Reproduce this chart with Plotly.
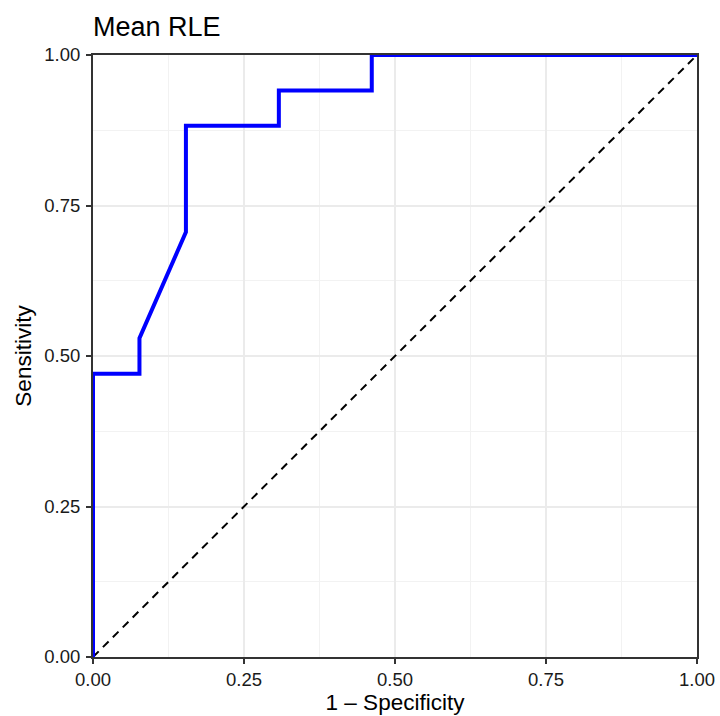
import plotly.graph_objects as go

fpr = [0.0, 0.0, 1/13, 1/13, 2/13, 2/13, 4/13, 4/13, 6/13, 6/13, 1.0]
tpr = [0.0, 8/17, 8/17, 9/17, 12/17, 15/17, 15/17, 16/17, 16/17, 1.0, 1.0]
diag = [0.0, 1.0]
tickvals = [0, 0.25, 0.5, 0.75, 1.0]
ticktext = ["0.00", "0.25", "0.50", "0.75", "1.00"]

FONT = "Liberation Sans, Arial, Helvetica"

fig = go.Figure()
fig.add_trace(go.Scatter(x=diag, y=diag, mode="lines",
                         line=dict(color="black", width=2, dash="8px,6px"),
                         showlegend=False, hoverinfo="skip"))
fig.add_trace(go.Scatter(x=fpr, y=tpr, mode="lines",
                         line=dict(color="#0000FF", width=4),
                         showlegend=False))

axis_common = dict(
    range=[0, 1], tickvals=tickvals, ticktext=ticktext,
    showgrid=True, gridcolor="#EBEBEB", gridwidth=2,
    minor=dict(tickvals=[0.125, 0.375, 0.625, 0.875], showgrid=True,
               gridcolor="#F2F2F2", gridwidth=1, ticks=""),
    showline=True, linecolor="#333333", linewidth=2, mirror=True,
    ticks="outside", ticklen=5, tickwidth=2, tickcolor="#333333",
    tickfont=dict(family=FONT, size=18.5, color="#1a1a1a"),
    zeroline=False, automargin=False,
)

fig.update_layout(
    width=720, height=716,
    margin=dict(l=93, r=23, t=55, b=59),
    paper_bgcolor="white", plot_bgcolor="white",
    title=dict(text="Mean RLE", x=93/720, xanchor="left",
               y=1 - 27/716, yanchor="middle",
               font=dict(family=FONT, size=27, color="black")),
    xaxis=dict(axis_common, ticklabelstandoff=0,
               title=dict(text="1 \u2013 Specificity", standoff=4,
               font=dict(family=FONT, size=22.5, color="black"))),
    yaxis=dict(axis_common, ticklabelstandoff=2,
               title=dict(text="Sensitivity", standoff=6,
               font=dict(family=FONT, size=22.5, color="black"))),
)

fig.write_html("out.html")
